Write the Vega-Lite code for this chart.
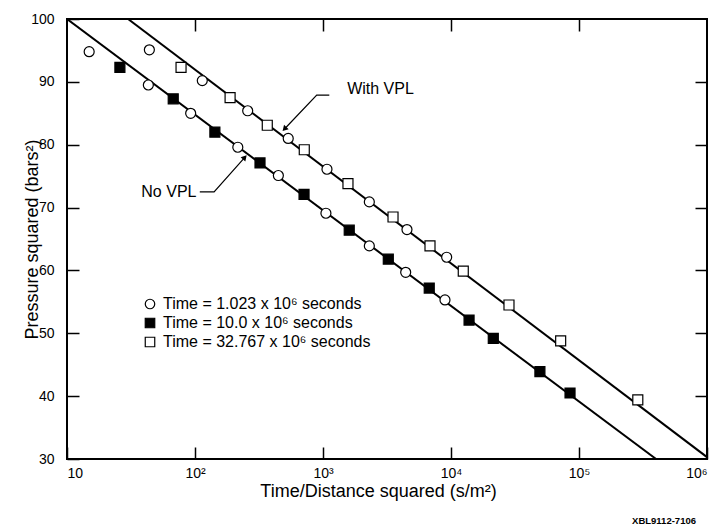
{
  "$schema": "https://vega.github.io/schema/vega-lite/v6.json",
  "width": 640,
  "height": 440,
  "autosize": {"type": "none"},
  "padding": {"left": 67, "top": 19, "right": 13, "bottom": 68},
  "background": "white",
  "title": {"text": "XBL9112-7106", "orient": "bottom", "anchor": "end", "frame": "group", "fontSize": 9.5, "fontWeight": "bold", "font": "Liberation Sans", "color": "black", "offset": 16, "dx": -11},
  "config": {
    "view": {"stroke": "black", "strokeWidth": 2},
    "font": "Liberation Sans",
    "axis": {"grid": false, "domain": false, "ticks": true, "tickOpacity": 1, "tickColor": "black", "tickWidth": 1.5, "zindex": 1, "labelColor": "black", "titleColor": "black", "labelFont": "Liberation Sans", "titleFont": "Liberation Sans", "titleFontWeight": "normal"}
  },
  "datasets": {
    "pts": [
      {"t": 14.9, "p": 94.8, "series": "Time = 1.023 x 10⁶ seconds"},
      {"t": 43.2, "p": 89.5, "series": "Time = 1.023 x 10⁶ seconds"},
      {"t": 92.5, "p": 85.0, "series": "Time = 1.023 x 10⁶ seconds"},
      {"t": 216, "p": 79.6, "series": "Time = 1.023 x 10⁶ seconds"},
      {"t": 448, "p": 75.1, "series": "Time = 1.023 x 10⁶ seconds"},
      {"t": 1054, "p": 69.1, "series": "Time = 1.023 x 10⁶ seconds"},
      {"t": 2301, "p": 63.9, "series": "Time = 1.023 x 10⁶ seconds"},
      {"t": 4426, "p": 59.7, "series": "Time = 1.023 x 10⁶ seconds"},
      {"t": 8974, "p": 55.3, "series": "Time = 1.023 x 10⁶ seconds"},
      {"t": 44, "p": 95.1, "series": "Time = 1.023 x 10⁶ seconds"},
      {"t": 114, "p": 90.2, "series": "Time = 1.023 x 10⁶ seconds"},
      {"t": 258, "p": 85.4, "series": "Time = 1.023 x 10⁶ seconds"},
      {"t": 535, "p": 81.0, "series": "Time = 1.023 x 10⁶ seconds"},
      {"t": 1074, "p": 76.1, "series": "Time = 1.023 x 10⁶ seconds"},
      {"t": 2301, "p": 70.9, "series": "Time = 1.023 x 10⁶ seconds"},
      {"t": 4529, "p": 66.5, "series": "Time = 1.023 x 10⁶ seconds"},
      {"t": 9250, "p": 62.1, "series": "Time = 1.023 x 10⁶ seconds"},
      {"t": 25.9, "p": 92.3, "series": "Time = 10.0 x 10⁶ seconds"},
      {"t": 67.6, "p": 87.3, "series": "Time = 10.0 x 10⁶ seconds"},
      {"t": 143, "p": 82.0, "series": "Time = 10.0 x 10⁶ seconds"},
      {"t": 322, "p": 77.1, "series": "Time = 10.0 x 10⁶ seconds"},
      {"t": 711, "p": 72.1, "series": "Time = 10.0 x 10⁶ seconds"},
      {"t": 1603, "p": 66.4, "series": "Time = 10.0 x 10⁶ seconds"},
      {"t": 3237, "p": 61.8, "series": "Time = 10.0 x 10⁶ seconds"},
      {"t": 6761, "p": 57.2, "series": "Time = 10.0 x 10⁶ seconds"},
      {"t": 13840, "p": 52.1, "series": "Time = 10.0 x 10⁶ seconds"},
      {"t": 21400, "p": 49.2, "series": "Time = 10.0 x 10⁶ seconds"},
      {"t": 49500, "p": 43.9, "series": "Time = 10.0 x 10⁶ seconds"},
      {"t": 85100, "p": 40.5, "series": "Time = 10.0 x 10⁶ seconds"},
      {"t": 77.8, "p": 92.3, "series": "Time = 32.767 x 10⁶ seconds"},
      {"t": 188, "p": 87.5, "series": "Time = 32.767 x 10⁶ seconds"},
      {"t": 367, "p": 83.1, "series": "Time = 32.767 x 10⁶ seconds"},
      {"t": 714, "p": 79.2, "series": "Time = 32.767 x 10⁶ seconds"},
      {"t": 1567, "p": 73.8, "series": "Time = 32.767 x 10⁶ seconds"},
      {"t": 3524, "p": 68.5, "series": "Time = 32.767 x 10⁶ seconds"},
      {"t": 6854, "p": 63.9, "series": "Time = 32.767 x 10⁶ seconds"},
      {"t": 12470, "p": 59.9, "series": "Time = 32.767 x 10⁶ seconds"},
      {"t": 28380, "p": 54.5, "series": "Time = 32.767 x 10⁶ seconds"},
      {"t": 71900, "p": 48.8, "series": "Time = 32.767 x 10⁶ seconds"},
      {"t": 288000, "p": 39.4, "series": "Time = 32.767 x 10⁶ seconds"}
    ],
    "fits": [
      {"t": 10, "p": 100, "line": "No VPL"},
      {"t": 400000, "p": 30, "line": "No VPL"},
      {"t": 30, "p": 100, "line": "With VPL"},
      {"t": 1000000, "p": 30.3, "line": "With VPL"}
    ],
    "leaders": [
      {"t": 1120, "p": 87.9, "leader": "With VPL"},
      {"t": 893, "p": 87.9, "leader": "With VPL"},
      {"t": 500, "p": 82.5, "leader": "With VPL"},
      {"t": 109, "p": 72.5, "leader": "No VPL"},
      {"t": 141, "p": 72.5, "leader": "No VPL"},
      {"t": 245, "p": 78.0, "leader": "No VPL"}
    ],
    "labels": [
      {"t": 2812, "p": 88.9, "text": "With VPL"},
      {"t": 62.5, "p": 72.5, "text": "No VPL"}
    ]
  },
  "layer": [
    {
      "data": {"name": "fits"},
      "mark": {"type": "line", "color": "black", "strokeWidth": 2, "clip": true},
      "encoding": {
        "x": {"field": "t", "type": "quantitative", "scale": {"type": "log", "domain": [10, 1000000]},
              "axis": {"orient": "top", "values": [100, 1000, 10000, 100000], "labels": false, "title": null, "tickSize": 12, "offset": -12}},
        "y": {"field": "p", "type": "quantitative", "scale": {"domain": [30, 100], "zero": false, "nice": false},
              "axis": {"orient": "right", "values": [40, 50, 60, 70, 80, 90], "labels": false, "title": null, "tickSize": 12, "offset": -12}},
        "detail": {"field": "line"}
      }
    },
    {
      "data": {"name": "leaders"},
      "mark": {"type": "line", "color": "black", "strokeWidth": 1.2},
      "encoding": {
        "x": {"field": "t", "type": "quantitative", "axis": null},
        "y": {"field": "p", "type": "quantitative", "axis": null},
        "detail": {"field": "leader"}
      }
    },
    {
      "data": {"name": "leaders"},
      "transform": [{"filter": "datum.leader == 'With VPL' && datum.t < 600"}],
      "mark": {"type": "point", "shape": "triangle-up", "filled": true, "color": "black", "size": 40, "angle": 223.6, "opacity": 1},
      "encoding": {
        "x": {"field": "t", "type": "quantitative", "axis": null},
        "y": {"field": "p", "type": "quantitative", "axis": null}
      }
    },
    {
      "data": {"name": "leaders"},
      "transform": [{"filter": "datum.leader == 'No VPL' && datum.t > 200"}],
      "mark": {"type": "point", "shape": "triangle-up", "filled": true, "color": "black", "size": 40, "angle": 42.2, "opacity": 1},
      "encoding": {
        "x": {"field": "t", "type": "quantitative", "axis": null},
        "y": {"field": "p", "type": "quantitative", "axis": null}
      }
    },
    {
      "data": {"name": "labels"},
      "mark": {"type": "text", "font": "Liberation Sans", "fontSize": 16, "color": "black", "align": "center", "baseline": "middle"},
      "encoding": {
        "x": {"field": "t", "type": "quantitative", "axis": null},
        "y": {"field": "p", "type": "quantitative", "axis": null},
        "text": {"field": "text"}
      }
    },
    {
      "data": {"name": "pts"},
      "mark": {"type": "point", "filled": true, "stroke": "black", "strokeWidth": 1.2, "size": 100, "opacity": 1},
      "encoding": {
        "x": {"field": "t", "type": "quantitative",
              "axis": {"orient": "bottom", "values": [10, 100, 1000, 10000, 100000, 1000000], "tickSize": 12, "offset": -12, "labelPadding": 7, "labelFontSize": 14,
                       "labelExpr": "datum.value < 50 ? '10' : '10' + ['','','²','³','⁴','⁵','⁶'][round(log(datum.value)/LN10)]",
                       "title": "Time/Distance squared  (s/m²)", "titleFontSize": 18, "titlePadding": 2, "titleX": 311}},
        "y": {"field": "p", "type": "quantitative",
              "axis": {"orient": "left", "values": [30, 40, 50, 60, 70, 80, 90, 100], "tickSize": 12, "offset": -12, "labelPadding": 13, "labelFontSize": 14,
                       "title": "Pressure squared  (bars²)", "titleFontSize": 18, "titlePadding": -11}},
        "shape": {"field": "series", "type": "nominal",
                  "scale": {"domain": ["Time = 1.023 x 10⁶ seconds", "Time = 10.0 x 10⁶ seconds", "Time = 32.767 x 10⁶ seconds"], "range": ["circle", "square", "square"]},
                  "legend": {"orient": "none", "legendX": 75, "legendY": 277, "title": null, "labelFontSize": 16, "labelFont": "Liberation Sans", "labelColor": "black", "labelLimit": 400, "symbolSize": 90, "rowPadding": 3, "labelOffset": 5, "padding": 0, "symbolStrokeColor": "black", "symbolStrokeWidth": 1.2, "symbolOpacity": 1,
                             "encode": {"symbols": {"update": {"stroke": {"value": "black"}, "strokeWidth": {"value": 1.2}}}}}},
        "fill": {"field": "series", "type": "nominal",
                 "scale": {"domain": ["Time = 1.023 x 10⁶ seconds", "Time = 10.0 x 10⁶ seconds", "Time = 32.767 x 10⁶ seconds"], "range": ["white", "black", "white"]},
                 "legend": {"orient": "none", "legendX": 75, "legendY": 277, "title": null, "labelFontSize": 16, "labelFont": "Liberation Sans", "labelColor": "black", "labelLimit": 400, "symbolSize": 90, "rowPadding": 3, "labelOffset": 5, "padding": 0, "symbolStrokeColor": "black", "symbolStrokeWidth": 1.2, "symbolOpacity": 1,
                            "encode": {"symbols": {"update": {"stroke": {"value": "black"}, "strokeWidth": {"value": 1.2}}}}}}
      }
    }
  ],
  "resolve": {"axis": {"x": "independent", "y": "independent"}}
}
